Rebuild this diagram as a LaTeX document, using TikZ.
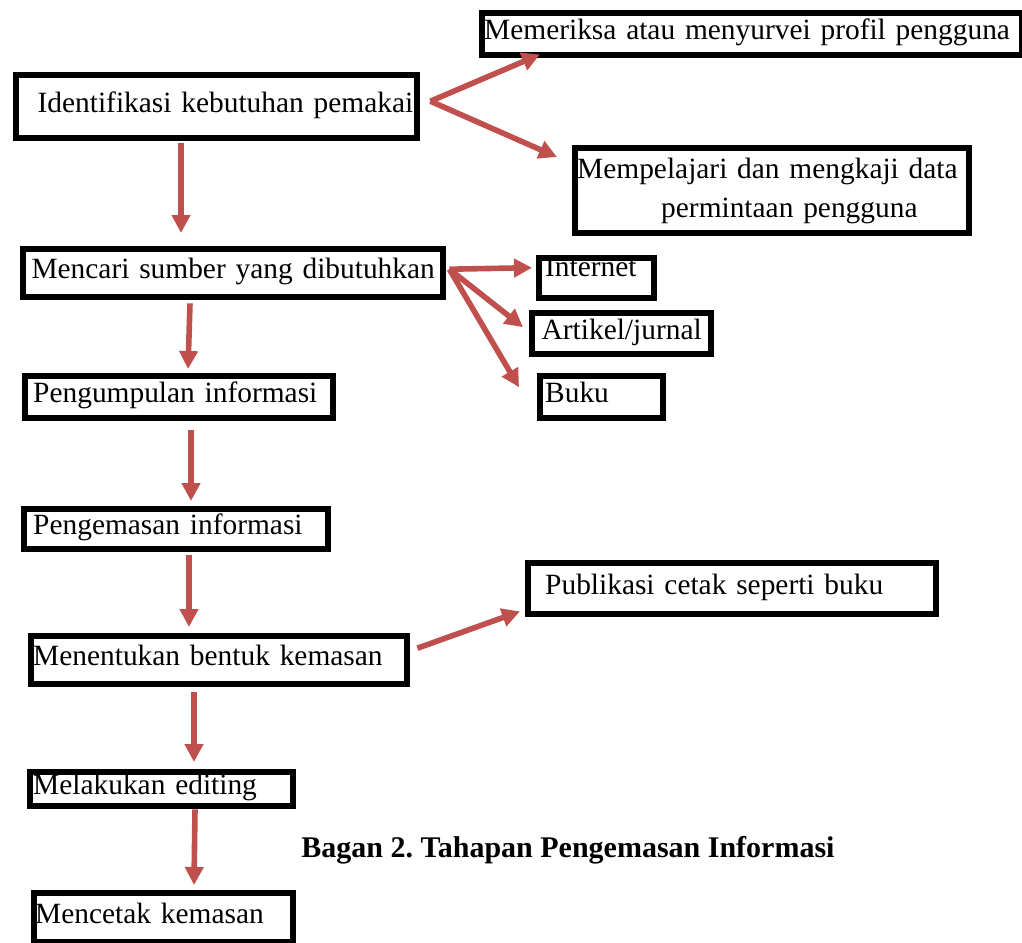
\documentclass[tikz,border=0pt]{standalone}
\usepackage{fontspec}
\setmainfont{Liberation Serif}
\usetikzlibrary{arrows.meta}
\definecolor{merahbata}{HTML}{C0504D}
\frenchspacing

\begin{document}
\begin{tikzpicture}[x=0.5pt, y=-0.5pt,
  kotak/.style={draw, line width=3.2pt, fill=white, anchor=north west,
    inner xsep=2pt, inner ysep=0pt, align=left, text height=10.5pt,
    text depth=5pt, font=\fontsize{14.7pt}{18pt}\selectfont},
  keterangan/.style={font=\fontsize{15pt}{18pt}\selectfont\bfseries,
    inner sep=0pt, anchor=base west},
  panah/.style={draw=merahbata, line width=2.8pt,
    -{Triangle[length=9pt, width=9pt, fill=merahbata]}}]

\useasboundingbox (0,0) rectangle (1022,942);

% alur utama (kolom kiri)
\begin{scope}
  \node [kotak, align=right, text width=196.5pt, minimum height=31.5pt]
  (ident) at (13,72) {Identifikasi kebutuhan pemakai};
  \node [kotak, align=center, inner xsep=1pt, text width=208pt,
  minimum height=24pt] (cari) at (20,246) {Mencari sumber yang dibutuhkan};
  \node [kotak, inner xsep=4pt, text width=146pt, minimum height=21pt]
  (kumpul) at (22,373) {Pengumpulan informasi};
  \node [kotak, inner xsep=4.5pt, text width=143pt, minimum height=20pt]
  (kemas) at (21,506) {Pengemasan informasi};
  \node [kotak, inner xsep=1pt, text width=186pt, minimum height=24pt]
  (bentuk) at (28,633) {Menentukan bentuk kemasan};
  \node [kotak, inner xsep=1.5pt, text width=128.5pt, minimum height=17pt]
  (edit) at (27,769) {Melakukan editing};
  \node [kotak, inner xsep=0.5pt, text width=128.5pt, minimum height=24.5pt]
  (cetak) at (31,890) {Mencetak kemasan};
\end{scope}

% cabang (kolom kanan)
\begin{scope}
  \node [kotak, inner xsep=1pt, text width=268pt, minimum height=21pt]
  (periksa) at (479,10) {Memeriksa atau menyurvei profil pengguna};
  \node [kotak, inner xsep=1pt, text width=195pt, minimum height=42.5pt,
  text depth=23pt, font=\fontsize{14.7pt}{19.5pt}\selectfont] (pelajari)
  at (572,145) {Mempelajari dan mengkaji data\\\hspace*{42pt}permintaan pengguna};

  \node [kotak, inner xsep=3pt, text width=51.5pt, minimum height=19.5pt,
  text height=9pt, text depth=11pt] (inet) at (536,255) {Internet};
  \node [kotak, align=center, text width=85.5pt, minimum height=20.5pt]
  (artikel) at (529,310) {Artikel/jurnal};
  \node [kotak, inner xsep=2.5pt, text width=56.5pt, minimum height=21pt]
  (buku) at (537,373) {Buku};

  \node [kotak, inner xsep=8.5pt, text width=187pt, minimum height=25.5pt]
  (cetakbuku) at (525,560) {Publikasi cetak seperti buku};
\end{scope}

\node [keterangan] (judul) at (301,857) {Bagan 2. Tahapan Pengemasan Informasi};

\begin{scope}[panah]
  \draw ([xshift=5pt,yshift=2.75pt]ident.east) --
  ([xshift=30.5pt,yshift=2pt]periksa.south west);
  \draw ([xshift=5pt,yshift=2.75pt]ident.east) --
  ([xshift=-7.5pt,yshift=-6pt]pelajari.north west);
  \draw ([xshift=84pt,yshift=-1pt]ident.south west) --
  ([xshift=80.5pt,yshift=6.5pt]cari.north west);

  \draw ([xshift=1.5pt,yshift=2pt]cari.east) --
  ([xshift=-2pt,yshift=5.25pt]inet.west);
  \draw ([xshift=1.5pt,yshift=2pt]cari.east) --
  ([xshift=-3pt,yshift=3.25pt]artikel.west);
  \draw ([xshift=1.5pt,yshift=2pt]cari.east) --
  ([xshift=-9pt,yshift=5pt]buku.west);
  \draw ([xshift=85pt,yshift=-1.5pt]cari.south west) --
  ([xshift=83pt,yshift=2pt]kumpul.north west);

  \draw ([xshift=84.5pt,yshift=-4.5pt]kumpul.south west) --
  ([xshift=85pt,yshift=2.5pt]kemas.north west);
  \draw ([xshift=84pt,yshift=-1.5pt]kemas.south west) --
  ([xshift=80.5pt,yshift=3pt]bentuk.north west);

  \draw ([xshift=3.5pt,yshift=6pt]bentuk.east) --
  ([xshift=-2.5pt,yshift=3pt]cetakbuku.south west);
  \draw ([xshift=83pt,yshift=-2.5pt]bentuk.south west) --
  ([xshift=83.5pt,yshift=3.5pt]edit.north west);
  \draw ([xshift=84pt]edit.south west) --
  ([xshift=81.5pt,yshift=2.5pt]cetak.north west);
\end{scope}
\end{tikzpicture}
\end{document}
